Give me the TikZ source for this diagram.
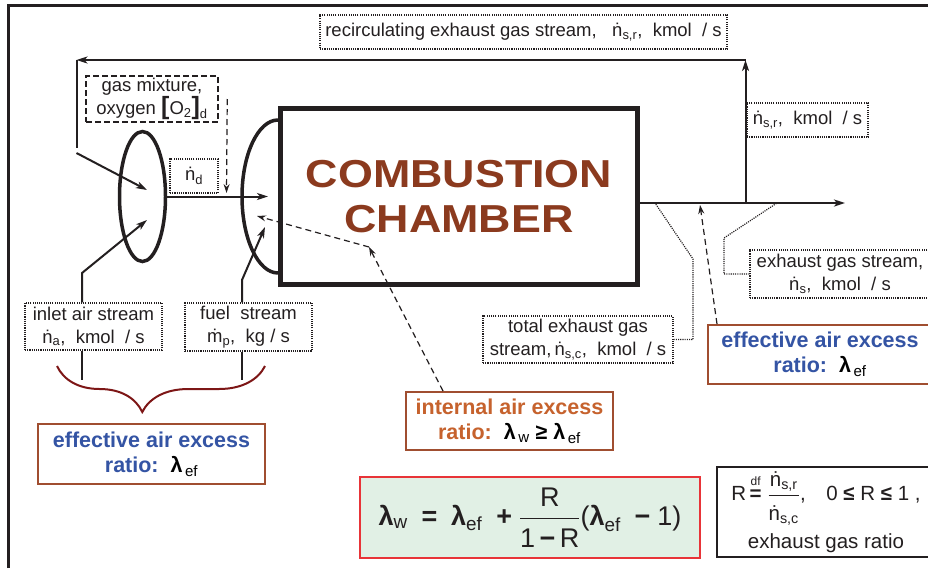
\documentclass[tikz,border=0pt]{standalone}
\usepackage{amsmath}
\usepackage{fontspec}
\setmainfont{Liberation Sans}
\usepackage{xcolor}
\usepackage{graphicx}
\usepackage{tikz}
\usetikzlibrary{calc,arrows.meta,decorations.pathreplacing,shapes.geometric}
\definecolor{inkgray}{RGB}{35,31,32}
\definecolor{chamberred}{RGB}{139,58,30}
\definecolor{boxbrown}{RGB}{160,78,48}
\definecolor{ratioblue}{RGB}{52,84,164}
\definecolor{ratioorange}{RGB}{198,98,45}
\definecolor{bracered}{RGB}{125,22,22}
\definecolor{formulagreen}{RGB}{225,240,229}
\definecolor{formulared}{RGB}{232,52,56}

\newcommand{\lbl}{\fontsize{18.5}{23}\selectfont}
\newcommand{\lbf}{\fontsize{21.5}{25}\selectfont\bfseries}
\newcommand{\lam}{\textbf{λ}}
\newcommand{\lamsub}[1]{\textcolor{black}{\lam\textsubscript{\normalfont\,#1}}}

\begin{document}
\begin{tikzpicture}[x=1pt,y=-1pt,
					pipe/.style={draw=inkgray, line width=2pt},
					flow/.style={pipe, -{Stealth[length=11pt,width=7pt,inset=3pt]}},
					hint/.style={draw=inkgray, line width=1.2pt, dash pattern=on 6pt off 4pt,
						-{Stealth[length=9pt,width=6pt,inset=3pt]}},
					leader/.style={draw=inkgray, line width=1.2pt, dash pattern=on 1.1pt off 1.1pt},
					dotbox/.style={draw=inkgray, line width=1.2pt, dash pattern=on 1.1pt off 1.1pt,
						inner sep=0pt, align=center, font=\lbl, text=inkgray},
					ratiobox/.style={draw=boxbrown, line width=2pt, fill=white,
						inner sep=0pt, align=center, font=\lbf},
					ring/.style={draw=inkgray, line width=3.5pt}
					]
					\path[use as bounding box] (0,0) rectangle (928,568);
					\clip (0,0) rectangle (928,568);
					
					% frame
					\draw[inkgray, line width=3pt] (8.5,568) -- (8.5,5) -- (928,5);
					
					% chamber and mixers
					\node[draw=inkgray, line width=5pt, minimum width=357, minimum height=176,
						align=center, text=chamberred, font=\fontsize{39}{45}\selectfont\bfseries]
						(chamber) at (459,196.5) {\scalebox{1.15}[1]{COMBUSTION}\\\scalebox{1.15}[1]{CHAMBER}};
					\node[ring, ellipse, inner sep=0pt, minimum width=46, minimum height=130]
						(mixer) at (142.5,196.5) {};
					\draw[ring] (278,273) arc[start angle=90, end angle=270, x radius=36, y radius=76.5];
					
					% labels
					\node[dotbox, minimum width=407, minimum height=34] (recirc) at (523.5,32)
						{recirculating exhaust gas stream,~~ ṅ\textsubscript{s,r},~~kmol~ / s};
					\node[dotbox, minimum width=121, minimum height=34] (nsr) at (807.5,120)
						{ṅ\textsubscript{s,r},~~kmol~ / s};
					\node[dotbox, draw, line width=1.5pt, dash pattern=on 6pt off 3pt,
						minimum width=132, minimum height=46, font=\fontsize{18.5}{21}\selectfont] (gas) at (152,99)
						{gas mixture,\\oxygen {\fontsize{25}{25}\selectfont\bfseries[}O\textsubscript{2}{\fontsize{25}{25}\selectfont\bfseries]}\textsubscript{d}};
					\node[dotbox, minimum width=48, minimum height=34] (nd) at (194,176) {ṅ\textsubscript{d}};
					\node[dotbox, minimum width=137, minimum height=47] (inlet) at (93.5,326.5)
						{inlet air stream\\ṅ\textsubscript{a},~~kmol~ / s};
					\node[dotbox, minimum width=127, minimum height=48] (fuel) at (248.5,327)
						{fuel~~stream\\ṁ\textsubscript{p},~~kg / s};
					\node[dotbox, minimum width=190, minimum height=47] (total) at (578,339.5)
						{total exhaust gas\\stream,\,ṅ\textsubscript{s,c},~~kmol~ / s};
					\node[dotbox, minimum width=180, minimum height=48] (exhaust) at (840,274)
						{exhaust gas stream,\\ṅ\textsubscript{s},~~kmol~ / s};
					
					% air excess ratios
					\node[ratiobox, text=ratioblue, minimum width=227, minimum height=60] (effleft) at (151.5,454)
						{effective air excess\\ratio:~~\lamsub{ef}};
					\node[ratiobox, text=ratioblue, minimum width=224, minimum height=59] (effright) at (820,354.5)
						{effective air excess\\ratio:~~\lamsub{ef}};
					\node[ratiobox, text=ratioorange, minimum width=207, minimum height=58] (internal) at (509.5,421)
						{internal air excess\\ratio:~~\lamsub{w}~\textcolor{black}{≥}~\lamsub{ef}};
					
					% formulas
					\node[draw=formulared, line width=2.5pt, fill=formulagreen, minimum width=340, minimum height=81,
						inner sep=0pt, font=\fontsize{27}{32}\selectfont, text=inkgray] (formula) at (530,517.5)
						{$\text{\lam}_{\text{w}}\;\;\textbf{=}\;\;\text{\lam}_{\text{ef}}\;\;\textbf{+}\;
							\dfrac{\text{R}\rule[-9pt]{0pt}{0pt}}{\rule{0pt}{25pt}\text{1\,\textbf{−}\,R}}\text{(\lam}_{\text{ef}}\;\;\textbf{−}\;\text{1)}$};
					\node[draw=inkgray, line width=2pt, minimum width=218, minimum height=90, inner sep=0pt,
						align=center, font=\fontsize{20.5}{24}\selectfont, text=inkgray] (ratio) at (826,512)
						{$\text{R}\,\overset{\text{\fontsize{12}{12}\selectfont df}}{\textbf{=}}\;\dfrac{\text{ṅ}_{\text{s,r}}}{\rule{0pt}{22pt}\text{ṅ}_{\text{s,c}}}$,\quad 0 \textbf{≤} R \textbf{≤} 1 ,\\[7pt]
							exhaust gas ratio};
					
					% points of the streams
					\coordinate (split) at (745.5,203);
					\coordinate (exhausttip) at (845,203);
					\coordinate (risetop) at (745.5,60);
					\coordinate (leftcorner) at (76.5,60);
					\coordinate (dropend) at (76.5,148);
					\coordinate (recyclestart) at (76.5,153);
					\coordinate (recycletip) at (147,190);
					\coordinate (chambertip) at (268,196.5);
					\coordinate (gastip) at (226.5,193);
					\coordinate (airbend) at (82,273);
					\coordinate (airtip) at (147,220);
					\coordinate (airfoot) at (82,380);
					\coordinate (fuelbend) at (242,280);
					\coordinate (fueltip) at (265,227);
					\coordinate (fuelfoot) at (242,380);
					\coordinate (bracel) at (57,366);
					\coordinate (bracer) at (265,366);
					\coordinate (hintcorner) at (369,247);
					\coordinate (hinttip) at (257,216);
					\coordinate (totalbend) at (693,259);
					\coordinate (totalend) at (655,203);
					\coordinate (exhaustbend) at (724,238);
					\coordinate (exhaustend) at (777,203);
					\coordinate (efftip) at (700,205);
					
					% streams
					\draw[flow] (chamber.east |- split) -- (exhausttip);
					\draw[flow] (split) -- (risetop);
					\draw[flow] (risetop) -- (leftcorner);
					\draw[pipe] (leftcorner) -- (dropend);
					\draw[flow] (recyclestart) -- (recycletip);
					\draw[flow] (mixer.east) -- (chambertip);
					\draw[hint] ([xshift=8.5pt]gas.east) -- (gastip);
					\draw[flow] (inlet.north -| airbend) -- (airbend) -- (airtip);
					\draw[pipe] (inlet.south -| airfoot) -- (airfoot);
					\draw[flow] (fuel.north -| fuelbend) -- (fuelbend) -- (fueltip);
					\draw[pipe] (fuel.south -| fuelfoot) -- (fuelfoot);
					\draw[bracered, line width=2pt, decorate,
						decoration={brace, mirror, amplitude=46pt, aspect=0.41}] (bracel) -- (bracer);
					
					% pointers
					\draw[hint] ([xshift=-66.5pt]internal.north) -- (hintcorner);
					\draw[hint] (hintcorner) -- (hinttip);
					\draw[hint] ([xshift=-103pt]effright.north) -- (efftip);
					\draw[leader] (total.east) -| (totalbend) -- (totalend);
					\draw[leader] (exhaust.west) -| (exhaustbend) -- (exhaustend);
				\end{tikzpicture}
\end{document}
